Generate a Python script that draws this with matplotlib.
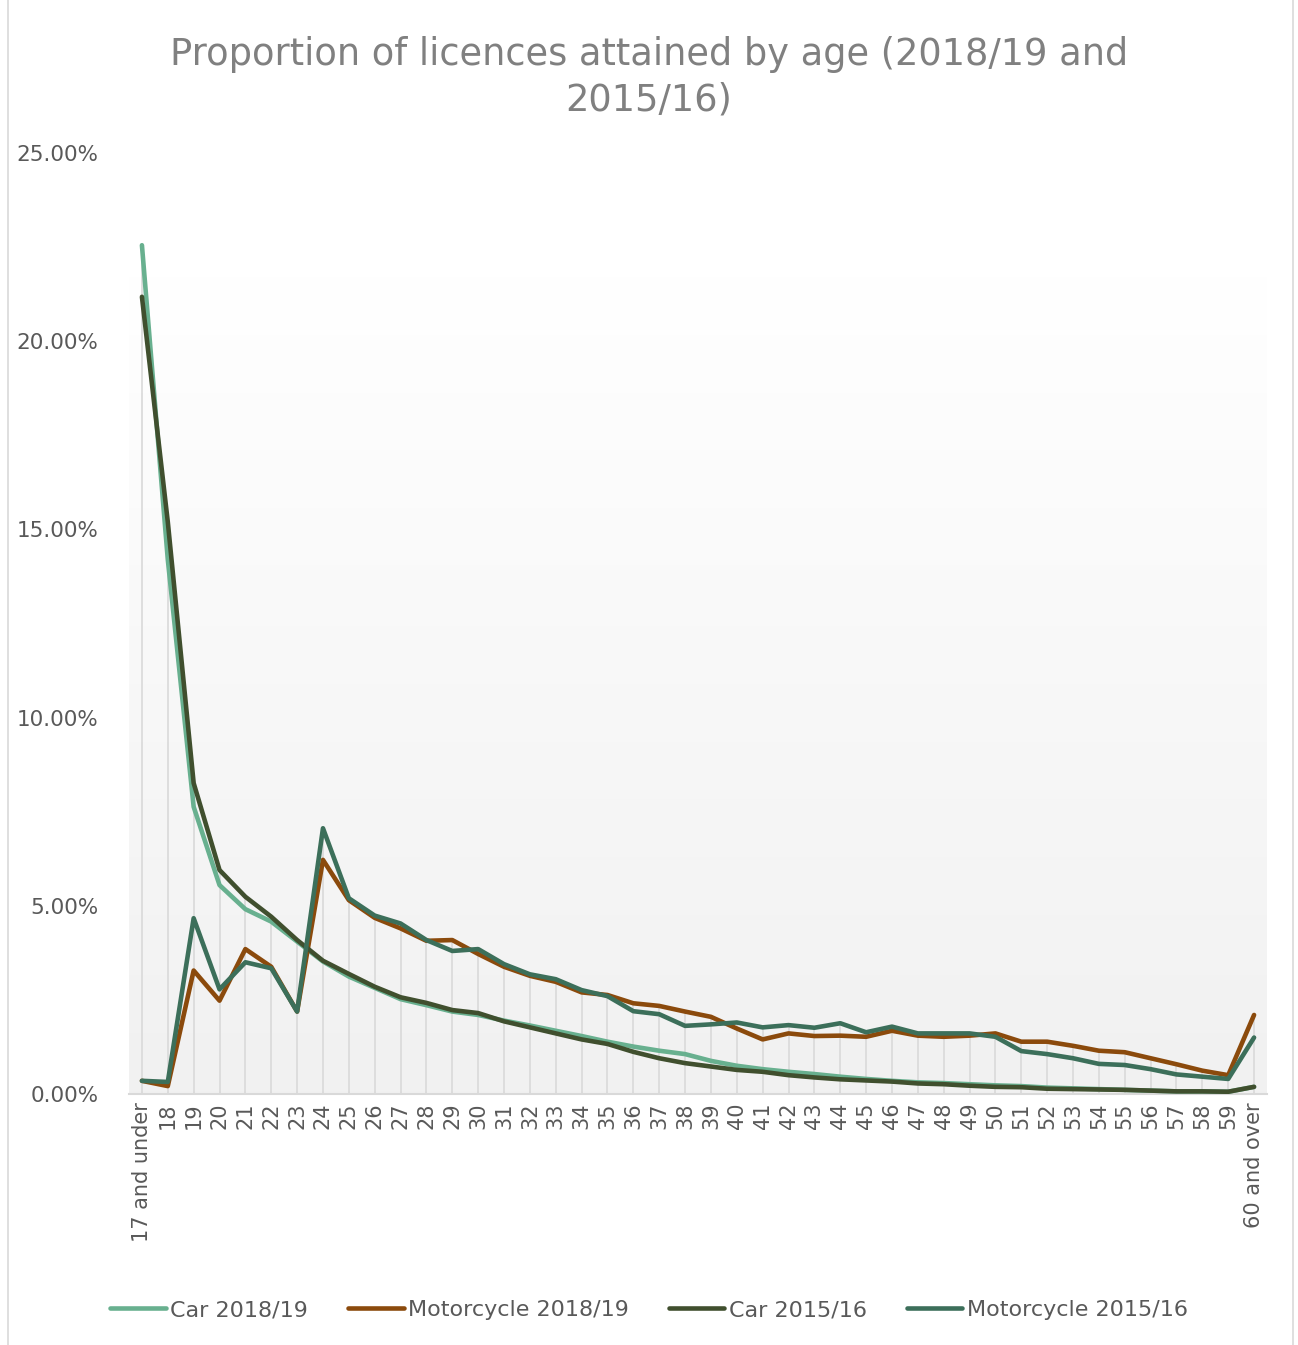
import numpy as np
import matplotlib
matplotlib.use('Agg')
import matplotlib.pyplot as plt
from matplotlib.lines import Line2D
from matplotlib.ticker import FuncFormatter

# age bands
ages = ['17 and under'] + [str(a) for a in range(18, 60)] + ['60 and over']

# proportions in percent
car_1819 = [22.55, 14.2, 7.63, 5.55, 4.91, 4.58, 4.05, 3.52, 3.12, 2.82,
            2.52, 2.36, 2.19, 2.10, 1.95, 1.82, 1.68, 1.54, 1.39, 1.26,
            1.15, 1.06, 0.88, 0.75, 0.66, 0.59, 0.53, 0.46, 0.40, 0.35,
            0.31, 0.29, 0.26, 0.23, 0.21, 0.17, 0.15, 0.13, 0.11, 0.09,
            0.07, 0.07, 0.06, 0.19]
moto_1819 = [0.35, 0.21, 3.28, 2.48, 3.85, 3.38, 2.19, 6.22, 5.15, 4.68,
             4.40, 4.07, 4.09, 3.72, 3.38, 3.14, 2.98, 2.70, 2.63, 2.41,
             2.34, 2.19, 2.05, 1.74, 1.45, 1.61, 1.54, 1.55, 1.52, 1.68,
             1.55, 1.52, 1.55, 1.61, 1.39, 1.39, 1.28, 1.15, 1.11, 0.95,
             0.79, 0.62, 0.50, 2.10]
car_1516 = [21.18, 15.2, 8.26, 5.95, 5.24, 4.71, 4.09, 3.54, 3.19, 2.85,
            2.57, 2.42, 2.23, 2.15, 1.93, 1.77, 1.61, 1.45, 1.33, 1.12,
            0.95, 0.82, 0.73, 0.64, 0.59, 0.50, 0.44, 0.39, 0.36, 0.33,
            0.28, 0.26, 0.22, 0.19, 0.18, 0.14, 0.13, 0.12, 0.11, 0.09,
            0.07, 0.07, 0.06, 0.19]
moto_1516 = [0.35, 0.32, 4.67, 2.78, 3.50, 3.34, 2.19, 7.06, 5.20, 4.74,
             4.53, 4.09, 3.80, 3.85, 3.45, 3.18, 3.05, 2.76, 2.60, 2.20,
             2.12, 1.81, 1.85, 1.90, 1.77, 1.83, 1.76, 1.88, 1.64, 1.79,
             1.61, 1.61, 1.61, 1.52, 1.14, 1.06, 0.95, 0.80, 0.77, 0.66,
             0.52, 0.46, 0.40, 1.50]

series_names = ['Car 2018/19', 'Motorcycle 2018/19', 'Car 2015/16', 'Motorcycle 2015/16']
series_colors = ['#68b08f', '#8b4a0c', '#404f2e', '#3c6f5a']

txt = '#595959'
plt.rcParams['font.family'] = 'DejaVu Sans'

fig = plt.figure(figsize=(12.98, 13.45), dpi=100)
ax = fig.add_axes([129/1298, 1 - 1094/1345, 1138/1298, (1094 - 153)/1345])

x = np.arange(len(ages))
data = [np.array(s) / 100 for s in (car_1819, moto_1819, car_1516, moto_1516)]

ax.set_xlim(-0.5, len(ages) - 0.5)
ax.set_ylim(0, 0.25)

# gradient plot area (white at top to light grey at bottom)
grad_top = 0.2176
grad = np.linspace(0, 1, 256).reshape(-1, 1)
c_top = np.array([1.0, 1.0, 1.0])
c_bot = np.array([0.945, 0.945, 0.945])
img = c_bot + (c_top - c_bot) * grad
ax.imshow(img[:, None, :].repeat(2, axis=1), extent=[-0.5, len(ages) - 0.5, 0, grad_top],
          origin='lower', aspect='auto', zorder=0)

# drop lines
top = np.max(np.vstack(data), axis=0)
ax.vlines(x, 0, top, color='#d9d9d9', lw=1.2, zorder=1)

for s, name, col in zip(data, series_names, series_colors):
    ax.plot(x, s, color=col, lw=3.3, label=name, solid_capstyle='round',
            solid_joinstyle='round', zorder=3)

for sp in ['top', 'right', 'left']:
    ax.spines[sp].set_visible(False)
ax.spines['bottom'].set_color('#d9d9d9')
ax.spines['bottom'].set_linewidth(1.5)

ax.set_yticks(np.arange(0, 0.2501, 0.05))
ax.yaxis.set_major_formatter(FuncFormatter(lambda v, p: '{:.2f}%'.format(v * 100)))
ax.tick_params(axis='y', length=0, pad=22, labelsize=15.5, labelcolor=txt)
ax.set_xticks(x)
ax.set_xticklabels(ages, rotation=90, ha='center', va='top')
ax.tick_params(axis='x', length=0, pad=6, labelsize=15, labelcolor=txt)

fig.text(0.5, 1 - 77/1345, 'Proportion of licences attained by age (2018/19 and\n2015/16)',
         ha='center', va='center', fontsize=26.5, color='#808080', linespacing=1.3)

fig.legend(loc='center', bbox_to_anchor=(0.5, 1 - 1310/1345), ncol=4, frameon=False,
           fontsize=16, labelcolor=txt, handlelength=2.5, handletextpad=0.2,
           columnspacing=1.8)

# chart border
fig.add_artist(Line2D([8/1298, 8/1298], [0, 1], color='#d9d9d9', lw=1.2))
fig.add_artist(Line2D([1293/1298, 1293/1298], [0, 1], color='#d9d9d9', lw=1.2))

fig.savefig('out.png', dpi=100, facecolor='white')
